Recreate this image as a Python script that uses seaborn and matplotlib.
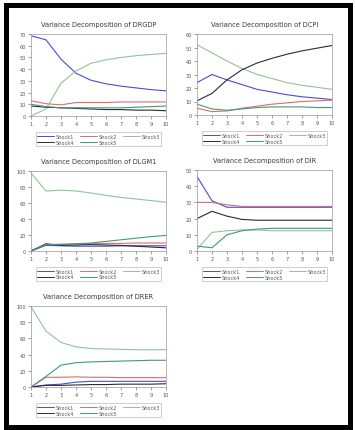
import matplotlib
matplotlib.use("Agg")
import matplotlib.pyplot as plt
import matplotlib.patches as mpatches
import seaborn as sns
import pandas as pd

periods = [1, 2, 3, 4, 5, 6, 7, 8, 9, 10]
shock_names = ["Shock1", "Shock2", "Shock3", "Shock4", "Shock5"]
shock_colors = ["#4b4bd6", "#e06a6a", "#94c294", "#2b2b33", "#3f9a7c"]

# DRGDP
drgdp_shock1 = [68.5, 65.0, 48.5, 36.5, 30.5, 27.5, 25.5, 24.0, 22.5, 21.5]
drgdp_shock2 = [13.0, 10.5, 9.5, 11.5, 11.5, 11.5, 12.0, 12.0, 12.0, 12.0]
drgdp_shock3 = [0.0, 6.0, 28.0, 38.5, 45.0, 48.0, 50.0, 51.5, 52.5, 53.5]
drgdp_shock4 = [8.5, 7.5, 7.0, 6.5, 6.0, 5.5, 5.5, 5.0, 5.0, 4.5]
drgdp_shock5 = [10.0, 8.0, 7.0, 7.0, 7.0, 7.0, 7.0, 7.5, 8.0, 8.5]

# DCPI
dcpi_shock1 = [24.0, 30.0, 26.0, 22.5, 19.0, 17.0, 15.0, 13.5, 12.5, 11.5]
dcpi_shock2 = [5.0, 2.5, 3.0, 5.0, 6.5, 8.0, 9.0, 10.0, 10.5, 11.0]
dcpi_shock3 = [52.0, 46.0, 40.0, 34.5, 30.0, 27.0, 24.0, 22.0, 20.5, 19.0]
dcpi_shock4 = [10.5, 16.0, 26.0, 33.5, 38.5, 42.0, 45.0, 47.5, 49.5, 51.5]
dcpi_shock5 = [8.0, 4.5, 3.5, 4.5, 5.5, 6.0, 6.0, 6.0, 5.5, 5.5]

# DLGM1
dlgm1_shock1 = [0.0, 7.0, 6.5, 6.0, 6.0, 6.0, 6.5, 6.5, 6.5, 6.5]
dlgm1_shock2 = [0.0, 8.0, 8.5, 9.0, 9.0, 9.5, 9.5, 10.0, 10.0, 10.0]
dlgm1_shock3 = [97.5, 75.0, 76.0, 75.0, 72.5, 69.5, 67.0, 65.0, 63.0, 61.0]
dlgm1_shock4 = [0.0, 9.0, 7.0, 7.5, 8.0, 7.5, 7.0, 6.0, 5.0, 4.0]
dlgm1_shock5 = [0.0, 8.0, 8.0, 9.0, 10.0, 12.0, 14.0, 16.0, 18.0, 19.5]

# DIR
dir_shock1 = [46.0, 31.0, 27.0, 27.0, 27.0, 27.0, 27.0, 27.0, 27.0, 27.0]
dir_shock2 = [30.0, 30.0, 28.5, 27.5, 27.5, 27.5, 27.5, 27.5, 27.5, 27.5]
dir_shock3 = [1.0, 11.5, 12.5, 13.0, 13.0, 12.5, 12.5, 12.5, 12.5, 12.5]
dir_shock4 = [20.0, 24.5, 21.5, 19.5, 19.0, 19.0, 19.0, 19.0, 19.0, 19.0]
dir_shock5 = [3.0, 2.0, 10.0, 12.5, 13.5, 14.0, 14.0, 14.0, 14.0, 14.0]

# DRER
drer_shock1 = [0.0, 2.5, 3.5, 6.0, 7.0, 7.0, 7.0, 7.0, 7.0, 7.0]
drer_shock2 = [0.0, 12.0, 12.0, 12.5, 12.0, 12.0, 11.5, 11.5, 11.5, 11.5]
drer_shock3 = [99.0, 69.0, 55.0, 49.5, 47.5, 47.0, 46.5, 46.0, 46.0, 46.0]
drer_shock4 = [0.0, 2.0, 2.0, 2.5, 3.0, 3.0, 3.5, 3.5, 3.5, 4.0]
drer_shock5 = [0.0, 13.0, 27.0, 30.0, 31.0, 31.5, 32.0, 32.5, 33.0, 33.0]

panels = [
    ("DRGDP", [drgdp_shock1, drgdp_shock2, drgdp_shock3, drgdp_shock4, drgdp_shock5], 70, [0, 10, 20, 30, 40, 50, 60, 70]),
    ("DCPI", [dcpi_shock1, dcpi_shock2, dcpi_shock3, dcpi_shock4, dcpi_shock5], 60, [0, 10, 20, 30, 40, 50, 60]),
    ("DLGM1", [dlgm1_shock1, dlgm1_shock2, dlgm1_shock3, dlgm1_shock4, dlgm1_shock5], 100, [0, 20, 40, 60, 80, 100]),
    ("DIR", [dir_shock1, dir_shock2, dir_shock3, dir_shock4, dir_shock5], 50, [0, 10, 20, 30, 40, 50]),
    ("DRER", [drer_shock1, drer_shock2, drer_shock3, drer_shock4, drer_shock5], 100, [0, 20, 40, 60, 80, 100]),
]

# pixel boxes: left, right, top, bottom
boxes = [
    (31, 166, 35, 117),
    (197, 332, 35, 116),
    (31, 166, 172, 252),
    (197, 332, 171, 252),
    (31, 166, 307, 388),
]

sns.set_style("white")
plt.rcParams["font.family"] = ["DejaVu Sans"]

W, H = 355, 431
fig = plt.figure(figsize=(W / 100, H / 100), dpi=100)
fig.patch.set_facecolor("white")

for (name, series, ymax, yticks), (l, r, t, b) in zip(panels, boxes):
    ax = fig.add_axes([l / W, 1 - b / H, (r - l) / W, (b - t) / H])
    rows = []
    for sname, vals in zip(shock_names, series):
        for p, v in zip(periods, vals):
            rows.append({"period": p, "value": v, "shock": sname})
    df = pd.DataFrame(rows)
    sns.lineplot(data=df, x="period", y="value", hue="shock",
                 hue_order=shock_names, palette=shock_colors,
                 linewidth=0.8, ax=ax, legend=True)
    ax.set_xlim(1, 10)
    ax.set_ylim(0, ymax)
    ax.set_xticks(periods)
    ax.set_yticks(yticks)
    ax.set_xlabel("")
    ax.set_ylabel("")
    ax.tick_params(axis="both", labelsize=3.6, colors="#555555", length=2,
                   width=0.4, direction="out", pad=1.5)
    ax.tick_params(bottom=True, left=True)
    for sp in ax.spines.values():
        sp.set_color("#999999")
        sp.set_linewidth(0.5)
    ax.set_title("Variance Decomposition of " + name, fontsize=4.8,
                 color="#3a3a3a", pad=6)
    handles, labels = ax.get_legend_handles_labels()
    order = [0, 3, 1, 4, 2]
    handles = [handles[i] for i in order]
    labels = [labels[i] for i in order]
    ax.legend(handles, labels, ncol=3, loc="upper center",
              bbox_to_anchor=(0.5, -0.17), fontsize=3.6, frameon=True,
              fancybox=False, edgecolor="#aaaaaa", handlelength=3.4,
              handletextpad=0.35, columnspacing=1.1, labelspacing=0.1,
              borderpad=0.35, labelcolor="#555555")
    ax.get_legend().get_frame().set_linewidth(0.5)
    for line in ax.get_legend().get_lines():
        line.set_linewidth(0.7)

frame = mpatches.Rectangle((5.5 / W, 1 - 428 / H), (350 - 5.5) / W, (428 - 5.5) / H,
                           transform=fig.transFigure, fill=False,
                           edgecolor="black", linewidth=3.6)
fig.patches.append(frame)

fig.savefig("out.png", dpi=100, facecolor="white")
